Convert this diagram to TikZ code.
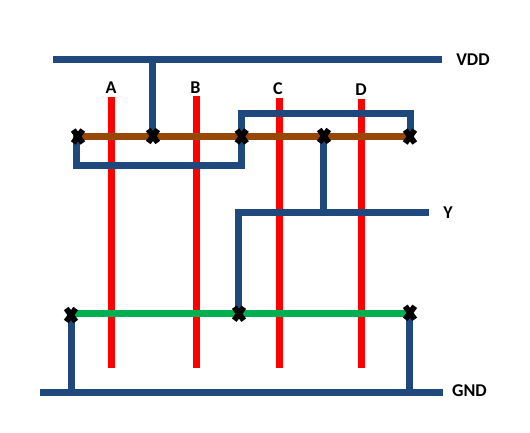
\documentclass[tikz,border=0pt]{standalone}
\usepackage{fontspec}
\setmainfont{Carlito}
\usetikzlibrary{shapes.misc}
\definecolor{railblue}{HTML}{1F497D}
\definecolor{polyred}{HTML}{FF0000}
\definecolor{pdiff}{HTML}{974706}
\definecolor{ndiff}{HTML}{00B050}
\pgfdeclarelayer{wires}
\pgfsetlayers{wires,main}
\tikzset{
  x=1pt,y=-1pt,
  metal/.style={draw=railblue,line width=7pt},
  gate/.style={draw=polyred,line width=7pt},
  pwell/.style={draw=pdiff,line width=7pt},
  nwell/.style={draw=ndiff,line width=7pt},
  contact/.style={cross out,draw=black,line width=5.8pt,minimum width=9.5pt,minimum height=13pt,inner sep=0pt,outer sep=0pt},
  lab/.style={font=\fontsize{18}{20}\selectfont\bfseries,inner sep=0pt,text=black}
}
\begin{document}
\begin{tikzpicture}
\useasboundingbox (0,0) rectangle (530,432);
% contacts
\node[contact] (p1) at (78,136.5) {};
\node[contact] (p2) at (153,136) {};
\node[contact] (p3) at (241.7,136.5) {};
\node[contact] (p4) at (324,136) {};
\node[contact] (p5) at (410,136.5) {};
\node[contact] (n1) at (71,315) {};
\node[contact] (n2) at (239,313.7) {};
\node[contact] (n3) at (410,312.8) {};
% labels
\node[lab] (la) at (111,88) {A};
\node[lab] (lb) at (195.5,87.5) {B};
\node[lab] (lc) at (278,88.5) {C};
\node[lab] (ld) at (361,90) {D};
\node[lab] (vdd) at (473,60) {VDD};
\node[lab] (y) at (448,212.5) {Y};
\node[lab] (gnd) at (469.5,390.5) {GND};
% free ends
\coordinate (vl) at (53,59.4);
\coordinate (vr) at (442,59.4);
\coordinate (gl) at (39.5,392.4);
\coordinate (gr) at (442.5,392.4);
\coordinate (yl) at (234.5,212.4);
\coordinate (yr) at (428.7,212.4);
\coordinate (at) at (111.3,97.3);
\coordinate (ab) at (111.3,367.5);
\coordinate (bt) at (196.7,96.3);
\coordinate (bb) at (196.7,367.5);
\coordinate (ct) at (279.3,97.5);
\coordinate (cb) at (279.3,367.5);
\coordinate (dt) at (361.3,98.7);
\coordinate (db) at (361.3,367.5);
\begin{pgfonlayer}{wires}
\draw[gate] (at) -- (ab);
\draw[gate] (bt) -- (bb);
\draw[gate] (ct) -- (cb);
\draw[gate] (dt) -- (db);
\draw[pwell] (p1.center) -- (p5.center);
\draw[nwell] (n1.center |- n2.center) -- (n3.center |- n2.center);
% rails
\draw[metal] (vl) -- (vr);
\draw[metal] (gl) -- (gr);
\draw[metal] (yl) -- (yr);
% verticals
\draw[metal] (152.3,59.4) -- (152.3,136);
\draw[metal,line cap=rect,line join=miter] (76.7,136.5) -- (76.7,165.3) -- (241.3,165.3) -- (241.3,113.3) -- (410.7,113.3) -- (410.7,136.5);
\draw[metal] (323.7,212.4) -- (323.7,136);
\draw[metal] (238.3,212.4) -- (238.3,313.7);
\draw[metal] (71.3,392.4) -- (71.3,315);
\draw[metal] (409.7,392.4) -- (409.7,312.8);
\end{pgfonlayer}
\end{tikzpicture}
\end{document}
